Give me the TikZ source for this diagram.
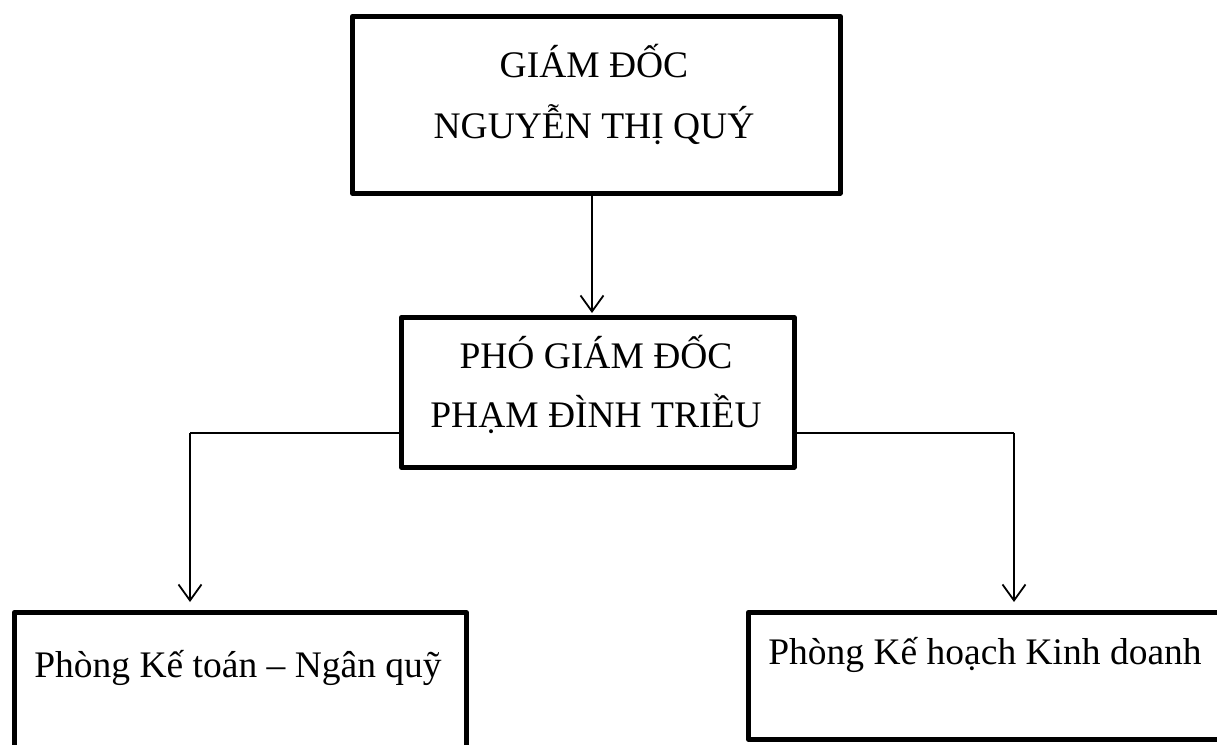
\documentclass[tikz,border=0pt]{standalone}
\usepackage{fontspec}
\setmainfont{Liberation Serif}
\usetikzlibrary{arrows.meta,calc}
\begin{document}
\begin{tikzpicture}[x=1pt,y=-1pt,
  box/.style={draw=black,line width=4.5pt,line join=round,rectangle,inner sep=0pt,anchor=north west},
  lbl/.style={font=\fontsize{37.5}{45}\selectfont,inner sep=0pt,anchor=center},
  conn/.style={line width=1.5pt,-{Straight Barb[length=16pt,width=23pt,line width=1.8pt]}},
  plain/.style={line width=1.5pt}]
\useasboundingbox (0,0) rectangle (1217,744);
% boxes
\node[box,minimum width=488pt,minimum height=177pt] (gd) at (350,14) {};
\node[box,minimum width=393pt,minimum height=150pt] (pgd) at (399,315) {};
\node[box,minimum width=452pt,minimum height=160pt] (kt) at (12,610) {};
\node[box,minimum width=490pt,minimum height=127pt] (kh) at (746,610) {};
% texts
\node[lbl] (t1) at (594,61) {GIÁM ĐỐC};
\node[lbl] (t2) at (594,125) {NGUYỄN THỊ QUÝ};
\node[lbl] (t3) at (596,352) {PHÓ GIÁM ĐỐC};
\node[lbl] (t4) at (596,414) {PHẠM ĐÌNH TRIỀU};
\node[lbl] (t5) at (238,668) {Phòng Kế toán – Ngân quỹ};
\node[lbl] (t6) at (985,655) {Phòng Kế hoạch Kinh doanh};
% connectors
\coordinate (jl) at (190,433);
\coordinate (jr) at (1014,433);
\coordinate (jt) at (592,0);
\draw[conn,shorten >=2pt] (gd.south -| jt) -- (pgd.north -| jt);
\draw[plain] (pgd.west |- jl) -- (jl);
\draw[conn,shorten >=8pt] (jl) -- (jl |- kt.north);
\draw[plain] (pgd.east |- jr) -- (jr);
\draw[conn,shorten >=8pt] (jr) -- (jr |- kh.north);
\end{tikzpicture}
\end{document}
